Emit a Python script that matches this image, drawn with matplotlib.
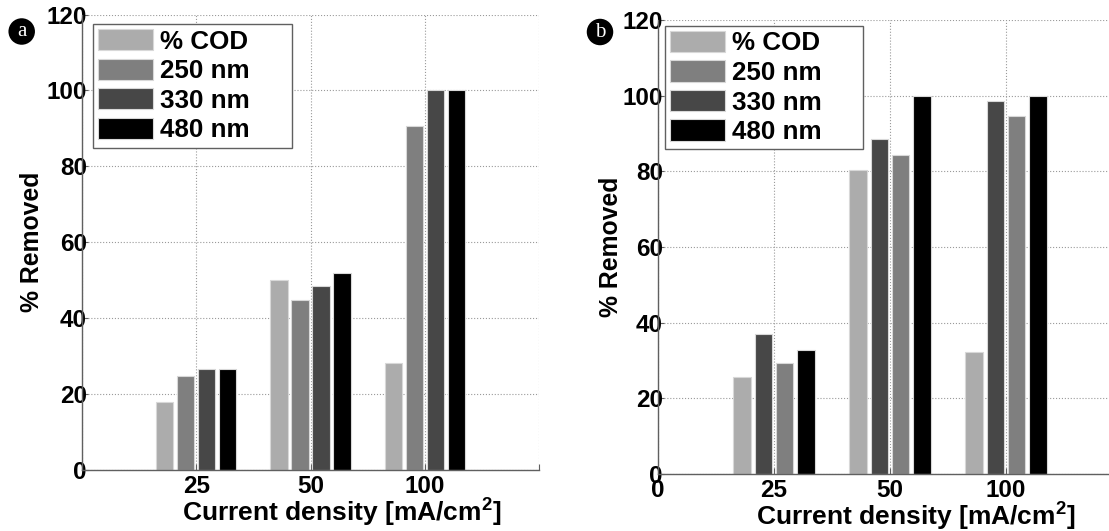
import matplotlib
matplotlib.use("Agg")
import matplotlib.pyplot as plt
from matplotlib.patches import Patch, Ellipse

plt.rcParams['font.family'] = ['Liberation Sans', 'DejaVu Sans']
plt.rcParams['font.weight'] = 'bold'
plt.rcParams['mathtext.fontset'] = 'custom'
plt.rcParams['mathtext.rm'] = 'Liberation Sans:bold'
plt.rcParams['mathtext.bf'] = 'Liberation Sans:bold'

# ---- data ----
categories = ['25', '50', '100']
series_names = ['% COD', '250 nm', '330 nm', '480 nm']
colors = {'% COD': '#acacac', '250 nm': '#7f7f7f', '330 nm': '#474747', '480 nm': '#000000'}

# panel a
cod_a = [18.0, 50.0, 28.1]
nm250_a = [24.8, 44.7, 90.5]
nm330_a = [26.5, 48.4, 100.0]
nm480_a = [26.7, 52.0, 100.0]

# panel b
cod_b = [25.7, 80.3, 32.3]
nm250_b = [29.3, 84.2, 94.5]
nm330_b = [37.0, 88.6, 98.6]
nm480_b = [32.7, 100.0, 100.0]

yticks = [0, 20, 40, 60, 80, 100, 120]

W, H = 1109, 531
fig = plt.figure(figsize=(W / 100, H / 100), dpi=100)

offsets = [-0.276, -0.092, 0.092, 0.276]
bar_w = 0.15


def panel(rect, order, xticklabels, leg_anchor, xlab_x, xlab_y, ylab_x):
    ax = fig.add_axes(rect)
    xs = [1, 2, 3]
    for k, (name, vals) in enumerate(order):
        ax.bar([x + offsets[k] for x in xs], vals, width=bar_w,
               color=colors[name], edgecolor='#d8d8d8', linewidth=0.8, zorder=3)
    ax.set_xlim(0, 4)
    ax.set_ylim(0, 120)
    ax.set_xticks([0, 1, 2, 3, 4])
    ax.set_xticklabels(xticklabels)
    ax.set_yticks(yticks)
    ax.set_yticklabels([str(v) for v in yticks])
    ax.grid(True, linestyle=':', color='#9a9a9a', linewidth=0.8, zorder=0)
    ax.set_axisbelow(True)
    for s in ['top', 'right']:
        ax.spines[s].set_visible(False)
    for s in ['left', 'bottom']:
        ax.spines[s].set_color('#606060')
        ax.spines[s].set_linewidth(1.0)
        ax.spines[s].set_zorder(4)
    ax.tick_params(axis='both', direction='in', length=4, width=0.8,
                   color='#606060', labelsize=17.5)
    ax.tick_params(axis='y', pad=-3.6)
    ax.tick_params(axis='x', pad=3.5)
    for lab in ax.get_xticklabels() + ax.get_yticklabels():
        lab.set_fontweight('bold')
    ax.text(xlab_x, xlab_y, r'Current density [mA/cm$^{\mathbf{2}}$]', transform=ax.transAxes,
            ha='center', va='baseline', fontsize=19.0, fontweight='bold')
    ax.text(ylab_x, 0.5, '% Removed', transform=ax.transAxes, rotation=90,
            ha='center', va='center', fontsize=17.8, fontweight='bold')
    handles = [Patch(facecolor=colors[n], edgecolor='#d8d8d8', linewidth=0.8) for n in series_names]
    leg = ax.legend(handles, series_names, loc='upper left', bbox_to_anchor=leg_anchor,
                    mode='expand', borderaxespad=0, fontsize=18.7, handlelength=2.1,
                    handleheight=0.88, handletextpad=0.26, labelspacing=0.19,
                    borderpad=0.2, fancybox=False, framealpha=1, frameon=True)
    leg.get_frame().set_edgecolor('#606060')
    leg.get_frame().set_linewidth(1.0)
    for t in leg.get_texts():
        t.set_fontweight('bold')
    leg.set_zorder(5)
    return ax


# panel a geometry (pixels): left 82, right 539, top 14.5, bottom 470
axa = panel([82 / W, 1 - 470 / H, 457 / W, 455.5 / H],
            [('% COD', cod_a), ('250 nm', nm250_a), ('330 nm', nm330_a), ('480 nm', nm480_a)],
            ['', '25', '50', '100', ''],
            (11.3 / 457, 1 - 9.5 / 455.5, 199 / 457, 0.0),
            0.568, -51 / 455.5, -0.109)

# panel b geometry: left 658, right 1122, top 20, bottom 474
axb = panel([658 / W, 1 - 474 / H, 464 / W, 454 / H],
            [('% COD', cod_b), ('330 nm', nm330_b), ('250 nm', nm250_b), ('480 nm', nm480_b)],
            ['0', '25', '50', '100', ''],
            (7.3 / 464, 1 - 5.7 / 454, 198 / 464, 0.0),
            0.555, -51 / 454, -0.101)

# circled panel letters
for cx, cy, letter in [(21.7, 31.5, 'a'), (600, 32, 'b')]:
    d = 26.5
    fig.add_artist(Ellipse((cx / W, 1 - cy / H), d / W, d / H, transform=fig.transFigure,
                           facecolor='black', edgecolor='none'))
    fig.text(cx / W, 1 - (cy + 0.5) / H, letter, color='white', ha='center', va='center',
             fontsize=15, family=['Liberation Serif', 'DejaVu Serif'], fontweight='normal')

fig.savefig('out.png', dpi=100)
